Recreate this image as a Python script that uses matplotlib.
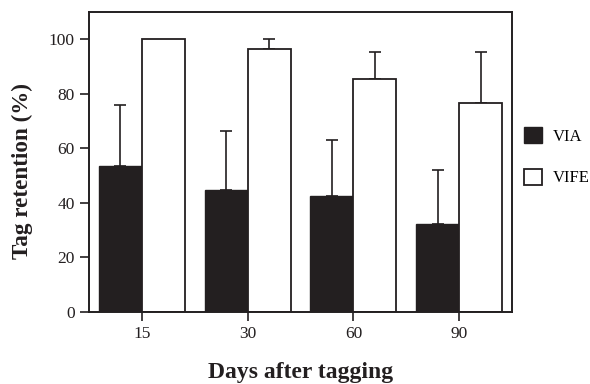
import matplotlib
matplotlib.use("Agg")
import matplotlib.pyplot as plt
import numpy as np
from matplotlib.patches import Patch

categories = ["15", "30", "60", "90"]
via = [53.7, 44.7, 42.7, 32.1]
via_err = [22.3, 21.5, 20.5, 20.1]
vife = [100.0, 96.3, 85.3, 76.8]
vife_err = [0.0, 3.7, 9.9, 18.4]

plt.rcParams['font.family'] = ['Liberation Serif', 'DejaVu Serif']

fig = plt.figure(figsize=(5.90, 3.84), dpi=100)
ax = fig.add_axes([89/590, 72/384, (512-89)/590, 300/384])

x = np.arange(len(categories))
w = 0.407
dark = "#231f20"
ax.bar(x - w/2, via, w, color=dark, edgecolor=dark, linewidth=1.0, zorder=2)
ax.bar(x + w/2, vife, w, color="white", edgecolor=dark, linewidth=1.3, zorder=2)

ax.errorbar(x - w/2, via, yerr=[np.zeros(len(via)), via_err], fmt="none",
            ecolor=dark, elinewidth=1.2, capsize=4.5, capthick=1.2, zorder=1)
vx = [xi + w/2 for xi, e in zip(x, vife_err) if e > 0]
vv = [v for v, e in zip(vife, vife_err) if e > 0]
ve = [e for e in vife_err if e > 0]
ax.errorbar(vx, vv, yerr=[np.zeros(len(ve)), ve], fmt="none",
            ecolor=dark, elinewidth=1.2, capsize=4.5, capthick=1.2, zorder=1)

ax.set_xlim(-0.5, 3.5)
ax.set_ylim(0, 110)
ax.set_yticks([0, 20, 40, 60, 80, 100])
ax.set_xticks(x)
ax.set_xticklabels(categories)
ax.tick_params(axis='both', labelsize=12.5, direction='out', length=6.2,
               width=1.2, colors=dark, pad=4)
for s in ax.spines.values():
    s.set_linewidth(1.4)
    s.set_color(dark)

ax.set_xlabel("Days after tagging", fontsize=17, fontweight='bold', labelpad=14, color=dark)
ax.set_ylabel("Tag retention (%)", fontsize=16.7, fontweight='bold', color=dark)
ax.yaxis.set_label_coords(-0.132, 0.47)

handles = [Patch(facecolor=dark, edgecolor=dark, linewidth=1.0),
           Patch(facecolor="white", edgecolor=dark, linewidth=1.3)]
fig.legend(handles, ["VIA", "VIFE"], loc='upper left',
           bbox_to_anchor=(524/590, 1 - 127/384), frameon=False,
           fontsize=12, handlelength=1.1, handleheight=1.1,
           labelspacing=1.45, handletextpad=0.65, borderpad=0, borderaxespad=0)

fig.savefig("out.png", dpi=100)
